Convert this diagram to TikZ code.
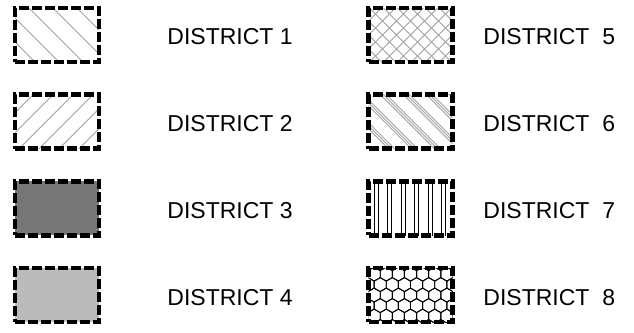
\documentclass[tikz,border=0pt]{standalone}
\usepackage{fontspec}
\setmainfont{Liberation Sans}
\usepackage{xcolor}
\usepackage{tikz}
\usetikzlibrary{positioning,calc}

\definecolor{darkfill}{HTML}{777777}
\definecolor{lightfill}{HTML}{BBBBBB}
\definecolor{hatchgray}{HTML}{A0A0A0}

\tikzset{
  district/.style={draw, line width=4.5pt, dash pattern=on 10pt off 3pt,
    minimum width=84pt, minimum height=54pt, inner sep=0pt},
  hatch/.style={draw=hatchgray, line width=0.8pt, solid},
  bars/.style={draw=black, line width=0.9pt, solid},
  keytext/.style={font=\fontsize{23}{28}\selectfont, inner sep=0pt},
  % the eight fillings
  district1/.style={district, path picture={
    \begin{scope}[shift={(path picture bounding box.center)}]
      \foreach \a in {-97,-73,...,95} \draw[hatch] (\a-40,40) -- (\a+40,-40);
    \end{scope}}},
  district2/.style={district, path picture={
    \begin{scope}[shift={(path picture bounding box.center)}]
      \foreach \a in {-91,-71,...,89} \draw[hatch] (\a-40,-40) -- (\a+40,40);
    \end{scope}}},
  district3/.style={district, fill=darkfill},
  district4/.style={district, fill=lightfill},
  district5/.style={district, path picture={
    \begin{scope}[shift={(path picture bounding box.center)}]
      \foreach \a in {-98,-84,...,98} {
        \draw[hatch] (\a-40,40) -- (\a+40,-40);
        \draw[hatch] (\a-40,-40) -- (\a+40,40);
      }
    \end{scope}}},
  district6/.style={district, path picture={
    \begin{scope}[shift={(path picture bounding box.center)}]
      \foreach \a in {-95,-72,...,90}
        \foreach \b in {0,3,6} \draw[hatch] (\a+\b-40,40) -- (\a+\b+40,-40);
    \end{scope}}},
  district7/.style={district, path picture={
    \begin{scope}[shift={(path picture bounding box.center)}]
      \foreach \a in {-36,-22.6,-9.2,4.2,17.6,31}
        \draw[bars] (\a,30) -- (\a,-30) (\a+4,30) -- (\a+4,-30);
    \end{scope}}},
  district8/.style={district, path picture={
    \begin{scope}[shift={(path picture bounding box.center)}]
      \foreach \i in {-5,...,5}
        \foreach \j in {-3,...,3}
          \draw[bars] ({12.12*\i+6.06*mod(abs(\j),2)},{10.5*\j})
            +(30:7) -- +(90:7) -- +(150:7) -- +(210:7) -- +(270:7) -- +(330:7) -- cycle;
    \end{scope}}}
}

\begin{document}
\begin{tikzpicture}[x=1pt, y=1pt, node distance=86.7pt]
\useasboundingbox (0,0) rectangle (634,-332);
% left column
\node[district1] (d1) at (57,-35) {};
\node[district2, below of=d1] (d2) {};
\node[district3, below of=d2] (d3) {};
\node[district4, below of=d3] (d4) {};
\node[keytext, right=66pt of d1, yshift=-2pt] (t1) {DISTRICT 1};
\node[keytext, right=66pt of d2, yshift=-2pt] (t2) {DISTRICT 2};
\node[keytext, right=66pt of d3, yshift=-2pt] (t3) {DISTRICT 3};
\node[keytext, right=66pt of d4, yshift=-2pt] (t4) {DISTRICT 4};
% right column
\node[district5] (d5) at (410.5,-35) {};
\node[district6, below of=d5] (d6) {};
\node[district7, below of=d6] (d7) {};
\node[district8, below of=d7] (d8) {};
\node[keytext, right=28.5pt of d5, yshift=-2pt] (t5) {DISTRICT~~5};
\node[keytext, right=28.5pt of d6, yshift=-2pt] (t6) {DISTRICT~~6};
\node[keytext, right=28.5pt of d7, yshift=-2pt] (t7) {DISTRICT~~7};
\node[keytext, right=28.5pt of d8, yshift=-2pt] (t8) {DISTRICT~~8};
\end{tikzpicture}
\end{document}
